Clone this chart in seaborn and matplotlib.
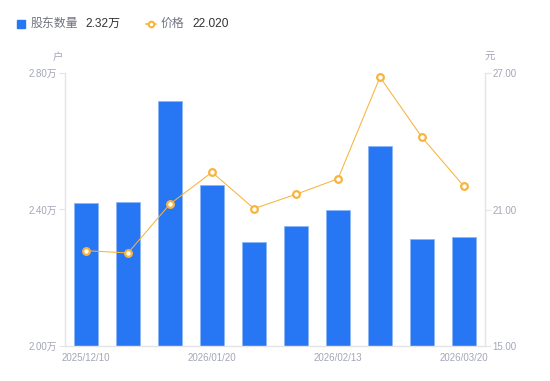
import numpy as np
import pandas as pd
import matplotlib
matplotlib.use("Agg")
import matplotlib.pyplot as plt
import seaborn as sns
from matplotlib.lines import Line2D
from matplotlib.patches import Rectangle

# ---- data ----
dates = ["2025/12/10", "2025/12/20", "2025/12/31", "2026/01/20", "2026/01/31",
         "2026/02/10", "2026/02/13", "2026/02/28", "2026/03/10", "2026/03/20"]
holders = [2.420, 2.423, 2.719, 2.472, 2.305, 2.352, 2.399, 2.585, 2.314, 2.320]  # 万户
price = [19.19, 19.09, 21.24, 22.64, 21.04, 21.67, 22.35, 26.82, 24.17, 22.02]
shown_idx = [0, 3, 6, 9]
left_ticks = [2.00, 2.40, 2.80]
right_ticks = [15.00, 21.00, 27.00]
legend_holders = "2.32万"
legend_price = "22.020"

BLUE = "#2777F5"
BLUE_EDGE = "#8DB6F7"
ORANGE = "#F7B43E"
TICK_C = "#A3A6B7"
AXIS_C = "#E4E4E8"

sns.set_theme(style="white")
plt.rcParams["font.family"] = ["Liberation Sans", "Noto Sans CJK SC"]

W, H = 550, 381
fig = plt.figure(figsize=(W / 100, H / 100), dpi=100)
ax = fig.add_axes([65 / W, 1 - 346 / H, 420 / W, 273 / H])

df = pd.DataFrame({"date": dates, "holders": holders, "price": price})

sns.barplot(data=df, x="date", y="holders", ax=ax, color=BLUE, width=0.57,
            edgecolor=BLUE_EDGE, linewidth=0.6, saturation=1, errorbar=None)
ax.set_ylim(left_ticks[0], left_ticks[-1])

ax2 = ax.twinx()
sns.pointplot(data=df, x="date", y="price", ax=ax2, color=ORANGE, errorbar=None,
              markers="o", linestyles="-", linewidth=0.75, markersize=4.8,
              markerfacecolor="white", markeredgecolor=ORANGE, markeredgewidth=1.6)
ax2.set_ylim(right_ticks[0], right_ticks[-1])
ax.set_xlim(-0.5, len(dates) - 0.5)
ax2.set_xlim(-0.5, len(dates) - 0.5)

# x ticks
ax.set_xticks(shown_idx)
ax.set_xticklabels([dates[i] for i in shown_idx])
ax.tick_params(axis="x", length=0, pad=5, labelsize=7, labelcolor=TICK_C)

# y ticks
ax.set_yticks(left_ticks)
ax.set_yticklabels([f"{v:.2f}万" for v in left_ticks])
ax.tick_params(axis="y", length=4, width=0.8, color=AXIS_C, pad=1.5,
               labelsize=7, labelcolor=TICK_C, left=True)
ax2.set_yticks(right_ticks)
ax2.set_yticklabels([f"{v:.2f}" for v in right_ticks])
ax2.tick_params(axis="y", length=4, width=0.8, color=AXIS_C, pad=1.5,
                labelsize=7, labelcolor=TICK_C, right=True)

for a in (ax, ax2):
    a.set_xlabel("")
    a.set_ylabel("")
    a.grid(False)
    for s in a.spines.values():
        s.set_color(AXIS_C)
        s.set_linewidth(1)
    a.spines["top"].set_visible(False)
ax.spines["right"].set_visible(False)
ax2.spines["left"].set_visible(False)
ax2.spines["bottom"].set_visible(False)

# unit labels
fig.text(58 / W, 1 - 57 / H, "户", ha="center", va="center", fontsize=7.5, color=TICK_C)
fig.text(490 / W, 1 - 57 / H, "元", ha="center", va="center", fontsize=7.5, color=TICK_C)

# legend
ly = 1 - 24 / H
fig.add_artist(Rectangle((17 / W, 1 - 28 / H), 8 / W, 8 / H,
                         transform=fig.transFigure, color=BLUE))
fig.text(31 / W, ly, "股东数量", ha="left", va="center", fontsize=8.6, color="#707380")
fig.text(85 / W, ly, legend_holders, ha="left", va="center", fontsize=8.6, color="#333333")
fig.add_artist(Line2D([146 / W, 156 / W], [ly, ly], transform=fig.transFigure,
                      color=ORANGE, lw=1.2))
fig.add_artist(Line2D([151 / W], [ly], transform=fig.transFigure, marker="o",
                      ms=4, mfc="white", mec=ORANGE, mew=1.5, color=ORANGE))
fig.text(161 / W, ly, "价格", ha="left", va="center", fontsize=8.6, color="#707380")
fig.text(192 / W, ly, legend_price, ha="left", va="center", fontsize=8.6, color="#333333")

fig.savefig("out.png", dpi=100)
